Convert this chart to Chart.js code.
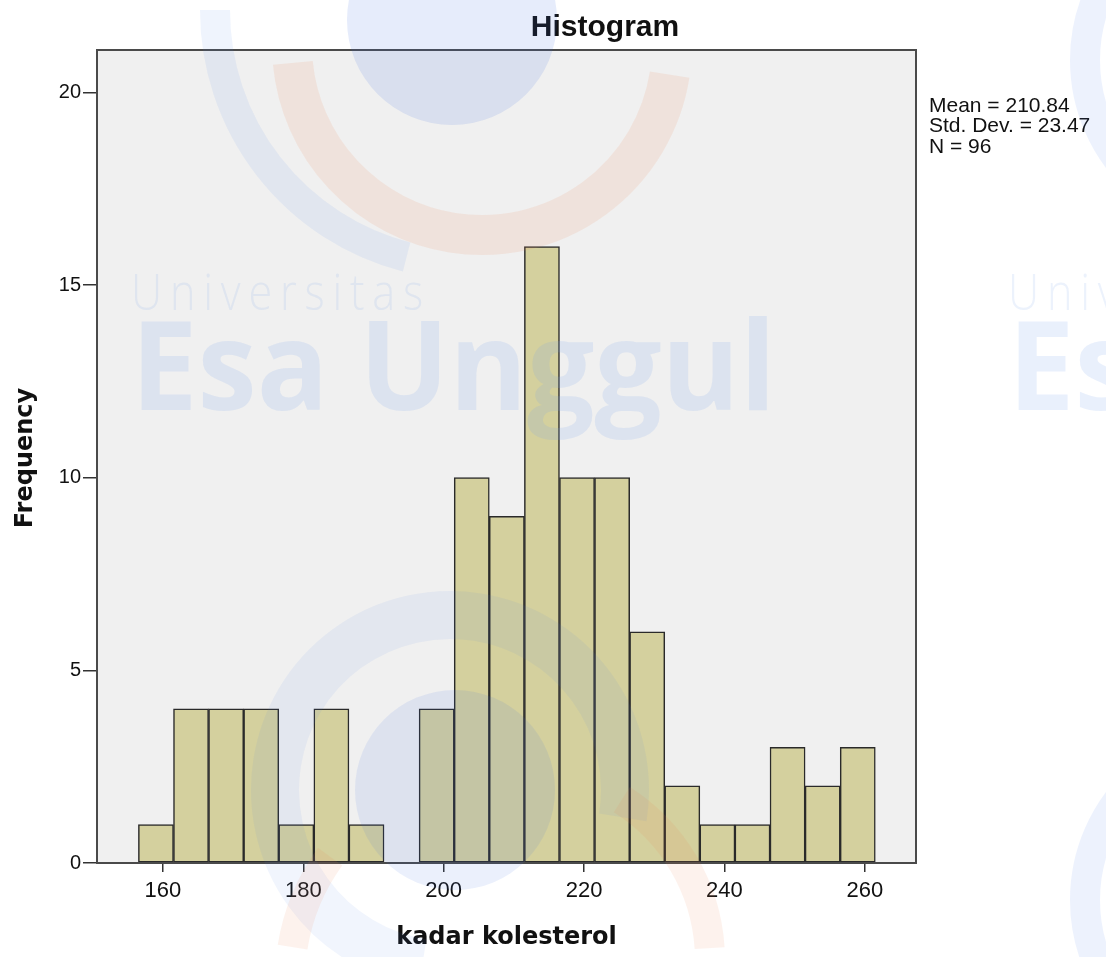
<!DOCTYPE html>
<html>
<head>
<meta charset="utf-8">
<script src="https://cdn.jsdelivr.net/npm/chart.js@4/dist/chart.umd.min.js"></script>
<style>
  html, body { margin: 0; padding: 0; background: #ffffff; }
  #c { display: block; }
</style>
</head>
<body>
<canvas id="c" width="1106" height="957"></canvas>
<script>
// ---- data ----
const chartTitle = 'Histogram';
const xAxisTitle = 'kadar kolesterol';
const yAxisTitle = 'Frequency';
const binCenters = [159, 164, 169, 174, 179, 184, 189, 194, 199, 204, 209, 214, 219, 224, 229, 234, 239, 244, 249, 254, 259];
const frequencies = [1, 4, 4, 4, 1, 4, 1, 0, 4, 10, 9, 16, 10, 10, 6, 2, 1, 1, 3, 2, 3];
const xTickValues = [160, 180, 200, 220, 240, 260];
const yTickValues = [0, 5, 10, 15, 20];
const statsLines = ['Mean = 210.84', 'Std. Dev. = 23.47', 'N = 96'];
const watermarkLines = ['Universitas', 'Esa Unggul'];

const FONT = "'Liberation Sans', Arial, sans-serif";
const BOLDFONT = "'DejaVu Sans', Verdana, sans-serif";

const framePlugin = {
  id: 'frame',
  beforeDraw(chart) {
    const { ctx, chartArea: a } = chart;
    ctx.save();
    ctx.fillStyle = '#f0f0f0';
    ctx.fillRect(a.left, a.top, a.right - a.left, a.bottom - a.top);
    ctx.restore();
  },
  afterDatasetsDraw(chart) {
    const { ctx, chartArea: a } = chart;
    ctx.save();
    ctx.strokeStyle = '#4a4a4a';
    ctx.lineWidth = 2;
    ctx.strokeRect(a.left, a.top, a.right - a.left, a.bottom - a.top);
    ctx.restore();
  },
  afterDraw(chart) {
    const { ctx, chartArea: a } = chart;
    ctx.save();
    // title
    ctx.fillStyle = '#111';
    ctx.textAlign = 'center';
    ctx.textBaseline = 'middle';
    ctx.font = 'bold 30px ' + FONT;
    ctx.fillText(chartTitle, 605, 28);
    // x title
    ctx.font = 'bold 24px ' + BOLDFONT;
    ctx.fillText(xAxisTitle, (a.left + a.right) / 2, 938);
    // y title
    ctx.save();
    ctx.translate(26, 458);
    ctx.rotate(-Math.PI / 2);
    ctx.fillText(yAxisTitle, 0, 0);
    ctx.restore();
    // stats
    ctx.textAlign = 'left';
    ctx.textBaseline = 'middle';
    ctx.font = '21px ' + FONT;
    statsLines.forEach((s, i) => ctx.fillText(s, 929, 106 + i * 20.5));
    ctx.restore();

    // watermark (semi-transparent overlay)
    ctx.save();
    // top logo
    ctx.globalAlpha = 0.13;
    ctx.fillStyle = '#3f6fe0';
    ctx.beginPath(); ctx.arc(452, 20, 105, 0, Math.PI * 2); ctx.fill();
    ctx.globalAlpha = 0.12;
    ctx.strokeStyle = '#f08050';
    ctx.lineWidth = 40;
    ctx.beginPath(); ctx.arc(482, 45, 190, 0.05 * Math.PI, 0.97 * Math.PI); ctx.stroke();
    ctx.globalAlpha = 0.09;
    ctx.strokeStyle = '#5080e8';
    ctx.lineWidth = 30;
    ctx.beginPath(); ctx.arc(470, 10, 255, 0.58 * Math.PI, 1.0 * Math.PI); ctx.stroke();
    // bottom logo
    ctx.globalAlpha = 0.08;
    ctx.strokeStyle = '#5080e8';
    ctx.lineWidth = 48;
    ctx.beginPath(); ctx.arc(450, 790, 175, 0.55 * Math.PI, 2.05 * Math.PI); ctx.stroke();
    ctx.globalAlpha = 0.1;
    ctx.fillStyle = '#3f6fe0';
    ctx.beginPath(); ctx.arc(455, 790, 100, 0, Math.PI * 2); ctx.fill();
    ctx.globalAlpha = 0.1;
    ctx.strokeStyle = '#f08050';
    ctx.lineWidth = 30;
    ctx.beginPath(); ctx.arc(520, 960, 190, 1.68 * Math.PI, 1.98 * Math.PI); ctx.stroke();
    ctx.beginPath(); ctx.arc(500, 980, 210, 1.05 * Math.PI, 1.2 * Math.PI); ctx.stroke();
    // right side arcs
    ctx.globalAlpha = 0.1;
    ctx.strokeStyle = '#5080e8';
    ctx.lineWidth = 30;
    ctx.beginPath(); ctx.arc(1250, 60, 165, 0.75 * Math.PI, 1.25 * Math.PI); ctx.stroke();
    ctx.beginPath(); ctx.arc(1250, 900, 165, 0.75 * Math.PI, 1.25 * Math.PI); ctx.stroke();
    // text
    ctx.globalAlpha = 1;
    ctx.fillStyle = 'rgba(120,160,235,0.14)';
    ctx.textAlign = 'left';
    ctx.textBaseline = 'alphabetic';
    ctx.font = "300 50px 'Open Sans', sans-serif";
    if ('letterSpacing' in ctx) ctx.letterSpacing = '9px';
    ctx.fillText(watermarkLines[0], 131, 310, 300);
    ctx.fillText(watermarkLines[0], 1008, 310, 300);
    if ('letterSpacing' in ctx) ctx.letterSpacing = '0px';
    ctx.fillStyle = 'rgba(120,160,235,0.16)';
    ctx.font = "bold 124px 'Open Sans', sans-serif";
    ctx.fillText(watermarkLines[1], 131, 410, 645);
    ctx.fillText(watermarkLines[1], 1008, 410, 645);
    ctx.restore();
  }
};

new Chart(document.getElementById('c'), {
  type: 'bar',
  data: {
    datasets: [{
      data: binCenters.map((c, i) => ({ x: c, y: frequencies[i] })),
      backgroundColor: '#d4d09e',
      borderColor: '#2a2a2a',
      borderWidth: 1.5,
      borderSkipped: false,
      barPercentage: 1,
      categoryPercentage: 1
    }]
  },
  options: {
    responsive: false,
    animation: false,
    devicePixelRatio: 1,
    layout: { padding: { left: 0, right: 190, top: 50, bottom: 0 } },
    plugins: { legend: { display: false }, tooltip: { enabled: false }, title: { display: false } },
    scales: {
      x: {
        type: 'linear',
        offset: false,
        min: 150.6,
        max: 267.3,
        afterBuildTicks: s => { s.ticks = xTickValues.map(v => ({ value: v })); },
        afterFit: s => { s.height = 94; },
        grid: { display: true, offset: false, drawOnChartArea: false, drawTicks: true, tickLength: 9, color: '#333', lineWidth: 1.5 },
        border: { display: false },
        ticks: { font: { family: FONT, size: 22 }, color: '#111', padding: 6, maxRotation: 0, autoSkip: false }
      },
      y: {
        min: 0,
        max: 21.1,
        afterBuildTicks: s => { s.ticks = yTickValues.map(v => ({ value: v })); },
        afterFit: s => { s.width = 97; },
        grid: { display: true, offset: false, drawOnChartArea: false, drawTicks: true, tickLength: 14, color: '#333', lineWidth: 1.5 },
        border: { display: false },
        ticks: { font: { family: FONT, size: 20 }, color: '#111', padding: 2, autoSkip: false }
      }
    }
  },
  plugins: [framePlugin]
});
</script>
</body>
</html>
